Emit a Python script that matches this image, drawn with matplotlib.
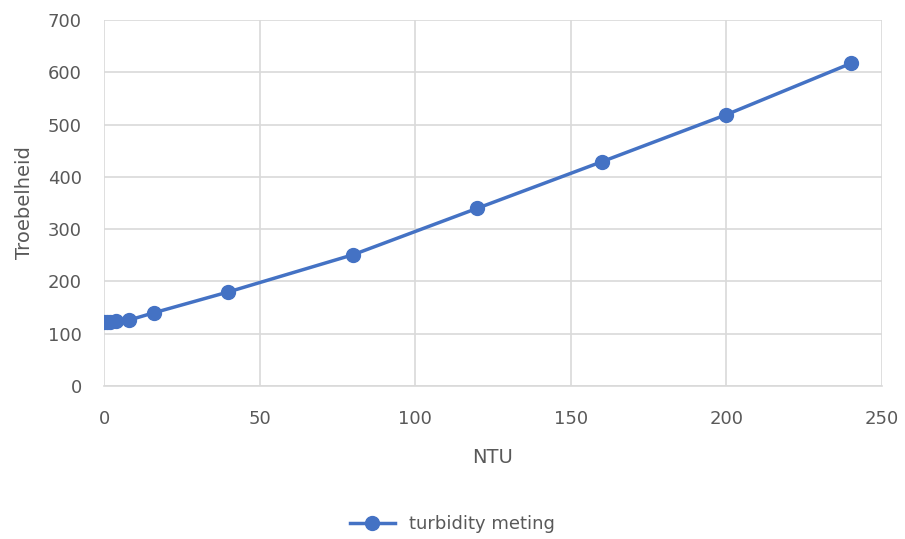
import matplotlib.pyplot as plt
from matplotlib.ticker import MultipleLocator

# dati
ntu = [0, 1, 2, 4, 8, 16, 40, 80, 120, 160, 200, 240]
troebelheid = [123, 123, 123, 124, 126, 140, 180, 251, 340, 429, 519, 617]

blauw = "#4472C4"
grijs = "#595959"
raster = "#D9D9D9"

fig = plt.figure(figsize=(9.05, 5.39), dpi=100)
ax = fig.add_axes([104 / 905, 1 - 386 / 539, (882 - 104) / 905, (386 - 20) / 539])

ax.plot(ntu, troebelheid, color=blauw, linewidth=2.5, marker="o", markersize=10,
        label="turbidity meting", zorder=3)

ax.set_xlim(0, 250)
ax.set_ylim(0, 700)
ax.xaxis.set_major_locator(MultipleLocator(50))
ax.yaxis.set_major_locator(MultipleLocator(100))
ax.grid(True, color=raster, linewidth=1.2)
ax.set_axisbelow(True)

for side in ["top", "right", "left"]:
    ax.spines[side].set_visible(False)
ax.spines["bottom"].set_color(raster)
ax.spines["bottom"].set_linewidth(1.2)
ax.tick_params(length=0, labelsize=13, labelcolor=grijs)
ax.tick_params(axis="x", pad=17)
ax.tick_params(axis="y", pad=16)

ax.set_xlabel("NTU", fontsize=14, color=grijs, labelpad=15)
ax.set_ylabel("Troebelheid", fontsize=14, color=grijs, labelpad=10)

fig.legend(loc="center", bbox_to_anchor=(0.5, 1 - 524 / 539), frameon=False,
           fontsize=13, labelcolor=grijs, handlelength=2.5)

fig.savefig("out.png", dpi=100)
